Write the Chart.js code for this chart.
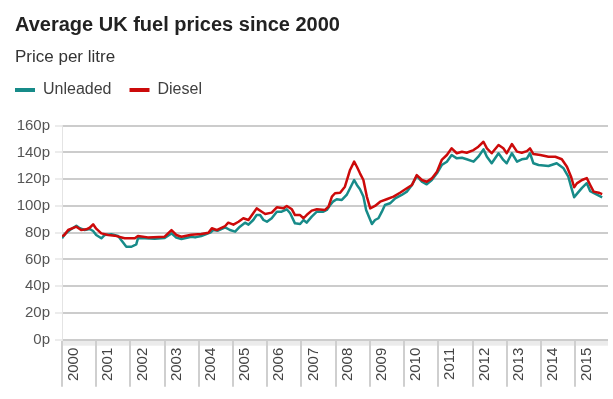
<!DOCTYPE html>
<html>
<head>
<meta charset="utf-8">
<script src="https://cdn.jsdelivr.net/npm/chart.js@4/dist/chart.umd.min.js"></script>
<style>
html,body{margin:0;padding:0;background:#ffffff;}
#wrap{width:613px;height:399px;}
</style>
</head>
<body>
<div id="wrap"><canvas id="c" width="613" height="399"></canvas></div>
<script>
const titleText = 'Average UK fuel prices since 2000';
const subtitleText = 'Price per litre';
const seriesNames = ['Unleaded', 'Diesel'];
const yearTicks = [2000, 2001, 2002, 2003, 2004, 2005, 2006, 2007, 2008, 2009, 2010, 2011, 2012, 2013, 2014, 2015];
const priceTicks = [0, 20, 40, 60, 80, 100, 120, 140, 160];

const unleadedDates = [2000.00,2000.08,2000.23,2000.42,2000.52,2000.66,2000.81,2000.91,2001.00,2001.15,2001.25,2001.44,2001.64,2001.78,2001.88,2002.03,2002.17,2002.22,2002.42,2002.71,2003.00,2003.20,2003.34,2003.49,2003.78,2003.89,2004.07,2004.33,2004.42,2004.56,2004.77,2004.91,2005.06,2005.20,2005.35,2005.45,2005.59,2005.69,2005.79,2005.89,2005.99,2006.13,2006.28,2006.42,2006.57,2006.67,2006.81,2006.96,2007.06,2007.15,2007.30,2007.45,2007.64,2007.74,2007.84,2007.92,2008.03,2008.18,2008.32,2008.42,2008.54,2008.62,2008.71,2008.81,2008.89,2008.99,2009.06,2009.15,2009.25,2009.35,2009.44,2009.59,2009.74,2009.93,2010.08,2010.23,2010.37,2010.52,2010.66,2010.81,2010.96,2011.10,2011.25,2011.39,2011.54,2011.69,2011.83,2012.03,2012.17,2012.32,2012.42,2012.56,2012.76,2012.90,2013.00,2013.15,2013.30,2013.44,2013.59,2013.68,2013.78,2013.93,2014.22,2014.46,2014.66,2014.80,2014.88,2014.97,2015.05,2015.20,2015.34,2015.44,2015.55,2015.79];
const unleadedPence = [75.8,78.8,82,85.2,83.3,82,82.8,81.3,78.3,75.8,78.3,78.8,77.5,72.8,69.5,69.5,71.3,75.8,75.8,75.5,76,79.5,76.3,75.3,77,76.5,77.5,80,82,81.5,84,82,80.8,84.5,87.5,86,89.5,93.2,93.2,89.5,88.2,90.8,95.7,95.7,97.5,94.5,87,86.5,89.5,87.5,92,95.7,95.7,97,100.7,103.2,105,104.5,108.2,113.2,119.4,115.7,112.5,107,97,90.8,86.5,89.5,90.8,95.7,100.7,102,105.7,108.2,110.7,115.7,122.4,118.1,116.2,119.4,124.4,130.6,133.1,138.1,135.6,136,134.9,133.1,136.8,142.3,136.8,131.9,139.4,134.4,131.9,139.4,133.1,134.9,135.5,139.4,131.9,130.6,129.9,131.9,128.1,121.9,114.4,106.5,109,113.5,117,111,109.5,106.5];

const dieselDates = [2000.00,2000.06,2000.18,2000.42,2000.56,2000.71,2000.81,2000.91,2001.00,2001.15,2001.35,2001.54,2001.83,2002.13,2002.22,2002.51,2003.00,2003.20,2003.34,2003.49,2003.78,2004.07,2004.28,2004.38,2004.52,2004.77,2004.86,2005.01,2005.16,2005.30,2005.45,2005.59,2005.69,2005.84,2005.94,2006.13,2006.28,2006.47,2006.57,2006.72,2006.81,2006.96,2007.06,2007.15,2007.30,2007.45,2007.69,2007.79,2007.89,2007.98,2008.13,2008.27,2008.42,2008.54,2008.62,2008.71,2008.81,2008.91,2009.01,2009.15,2009.30,2009.49,2009.69,2009.88,2010.08,2010.23,2010.37,2010.52,2010.66,2010.81,2010.96,2011.10,2011.25,2011.39,2011.54,2011.69,2011.83,2012.03,2012.17,2012.32,2012.42,2012.56,2012.76,2012.90,2013.00,2013.15,2013.30,2013.44,2013.59,2013.68,2013.78,2013.98,2014.22,2014.42,2014.61,2014.76,2014.88,2014.97,2015.05,2015.20,2015.34,2015.44,2015.54,2015.69,2015.79];
const dieselPence = [77.5,78,82,84.5,82,82.5,83.7,86.3,83,79.5,78.3,77.8,75.8,75.8,77.5,76.5,77,82,78.3,77,78.5,79,80,83.3,82,85,87.5,86,88.2,90.8,89.5,94.5,98.2,95.7,94,95,99,98.2,100,97.5,93.2,93.2,90.8,93.2,96.5,97.5,97,99.5,107,109.5,109.9,114.4,126.9,133.1,129.3,124.4,119.4,107,98.2,100,103.2,105,107,109.9,113.2,115.7,123.1,119.4,118.1,120.6,125.6,134.4,138.1,143.1,139.4,140.5,139.8,141.8,144.3,148,143.1,139.4,145.6,143.1,139.4,146.3,140.6,139.8,141,143.1,138.8,138.1,136.8,136.8,134.9,129.3,121.9,114,116.9,119.4,120.8,115.7,110.7,109.9,108.9];

const unleadedColor = '#178b89';
const dieselColor = '#cc0a0a';
const FONT = '"Liberation Sans", Arial, Helvetica, sans-serif';

const toPoints = (xs, ys) => xs.map((x, i) => ({x: x, y: ys[i]}));

const axisBand = {
  id: 'axisBand',
  beforeDraw(chart) {
    const {ctx, chartArea: a} = chart;
    ctx.save();
    ctx.fillStyle = '#ebebeb';
    ctx.fillRect(a.left, a.bottom, a.right - a.left, 6);
    ctx.restore();
  }
};

const legendPlace = {
  id: 'legendPlace',
  afterLayout(chart) {
    const lg = chart.legend;
    const p = lg.options.labels.padding;
    lg.left = 15 - p;
    lg.top = 64;
  }
};

new Chart(document.getElementById('c'), {
  type: 'line',
  data: {
    datasets: [
      {label: seriesNames[0], data: toPoints(unleadedDates, unleadedPence), borderColor: unleadedColor, backgroundColor: unleadedColor, borderWidth: 2.5, pointRadius: 0, tension: 0, borderJoinStyle: 'round', order: 1},
      {label: seriesNames[1], data: toPoints(dieselDates, dieselPence), borderColor: dieselColor, backgroundColor: dieselColor, borderWidth: 2.5, pointRadius: 0, tension: 0, borderJoinStyle: 'round', order: 0}
    ]
  },
  options: {
    responsive: false,
    animation: false,
    devicePixelRatio: 1,
    layout: {padding: {left: 15, right: 5, top: 0, bottom: 0}},
    plugins: {
      tooltip: {enabled: false},
      title: {display: true, text: titleText, align: 'start', color: '#222222', font: {family: FONT, size: 20, weight: 'bold', lineHeight: 1.2}, padding: {top: 13.8, bottom: 0}},
      subtitle: {display: true, text: subtitleText, align: 'start', color: '#333333', font: {family: FONT, size: 17, lineHeight: 1.2}, padding: {top: 9.7, bottom: 13.8}},
      legend: {
        display: true, position: 'top', align: 'start',
        labels: {
          boxWidth: 20, boxHeight: 4, padding: 18, color: '#404040',
          font: {family: FONT, size: 16},
          sort: (a, b) => a.datasetIndex - b.datasetIndex,
          generateLabels: (chart) => Chart.defaults.plugins.legend.labels.generateLabels(chart).map(l => Object.assign(l, {lineWidth: 0}))
        }
      }
    },
    scales: {
      x: {
        type: 'linear', min: 2000, max: 2015.96,
        afterBuildTicks: (s) => { s.ticks = yearTicks.map(v => ({value: v})); },
        afterFit: (s) => { s.height = 59.3; s.paddingLeft = 0; s.paddingRight = 0; },
        grid: {drawOnChartArea: false, drawTicks: true, tickLength: 47, color: '#cfcfcf', lineWidth: 2},
        border: {display: false},
        ticks: {minRotation: 90, maxRotation: 90, autoSkip: false, padding: -39, labelOffset: 12, color: '#444444', font: {family: FONT, size: 15}, callback: (v) => String(v)}
      },
      y: {
        min: 0, max: 160,
        afterBuildTicks: (s) => { s.ticks = priceTicks.map(v => ({value: v})); },
        afterFit: (s) => { s.width = 47; },
        grid: {color: '#cccccc', lineWidth: 2, drawTicks: true, tickLength: 7, tickColor: '#ececec'},
        border: {display: true, color: '#e4e4e4', width: 1},
        ticks: {padding: 5, color: '#555555', font: {family: FONT, size: 15}, callback: (v) => v + 'p'}
      }
    }
  },
  plugins: [axisBand, legendPlace]
});
</script>
</body>
</html>
